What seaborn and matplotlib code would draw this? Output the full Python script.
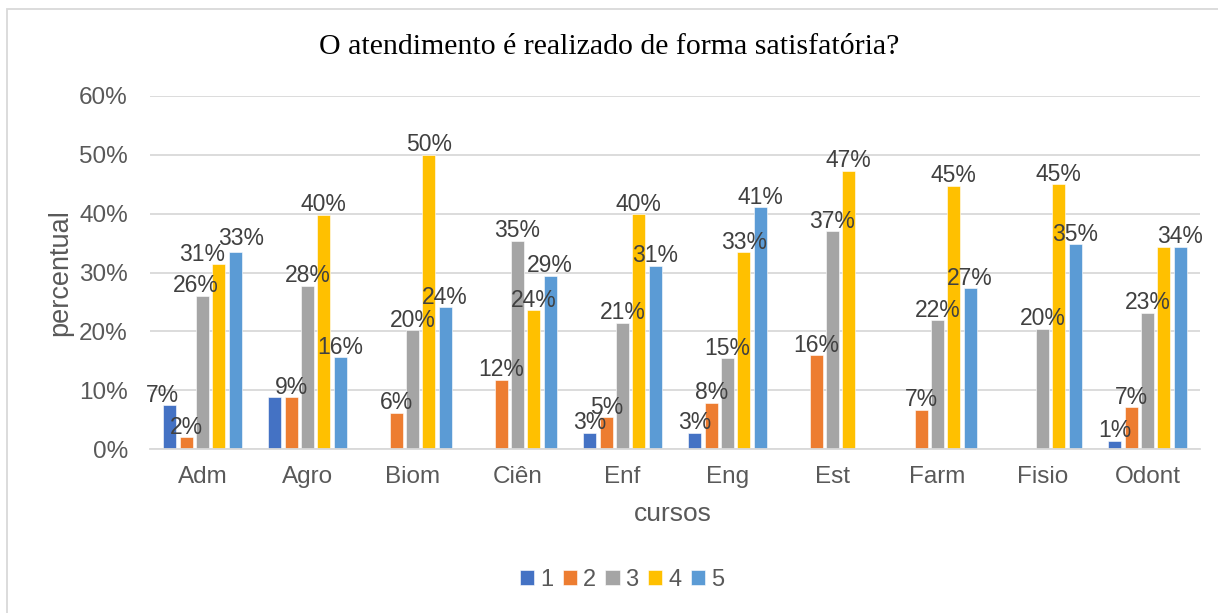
import numpy as np
import pandas as pd
import matplotlib
matplotlib.use('Agg')
import matplotlib.pyplot as plt
import seaborn as sns
from matplotlib.patches import Rectangle

# data (share of answers per course, 1..5)
cursos = ['Adm', 'Agro', 'Biom', 'Ciên', 'Enf', 'Eng', 'Est', 'Farm', 'Fisio', 'Odont']
nota_1 = [7.4, 8.8, 0.0, 0.0, 2.8, 2.8, 0.0, 0.0, 0.0, 1.4]
nota_2 = [2.0, 8.8, 6.2, 11.8, 5.4, 7.9, 15.9, 6.7, 0.0, 7.1]
nota_3 = [26.0, 27.7, 20.2, 35.4, 21.4, 15.4, 37.0, 21.9, 20.4, 23.1]
nota_4 = [31.4, 39.8, 50.0, 23.6, 39.9, 33.4, 47.3, 44.7, 45.0, 34.4]
nota_5 = [33.4, 15.6, 24.1, 29.4, 31.1, 41.1, 0.0, 27.3, 34.8, 34.4]
notas = ['1', '2', '3', '4', '5']
cores = ['#4472C4', '#ED7D31', '#A5A5A5', '#FFC000', '#5B9BD5']

# labels that the original chart does not show (hidden behind a neighbour)
ocultos = [('1', 'Agro'), ('4', 'Odont')]
# labels nudged sideways / up in the original (pixels)
desvio = {('1', 'Adm'): (-8, 0), ('3', 'Adm'): (-7, 0),
          ('4', 'Adm'): (-17, 0), ('5', 'Adm'): (6, 4)}

series = [nota_1, nota_2, nota_3, nota_4, nota_5]
rows = []
for n, vals in zip(notas, series):
    for c, v in zip(cursos, vals):
        rows.append({'curso': c, 'nota': n, 'pct': v / 100})
df = pd.DataFrame(rows)

sns.set_style('white')
plt.rcParams['font.family'] = ['Liberation Sans', 'DejaVu Sans']

fig = plt.figure(figsize=(12.18, 6.13), dpi=100)
ax = fig.add_axes([150 / 1218, 1 - 449 / 613, 1050 / 1218, 353 / 613])

sns.barplot(data=df, x='curso', y='pct', hue='nota', palette=cores,
            width=0.775, gap=0.2, ax=ax, errorbar=None, saturation=1,
            edgecolor='white', linewidth=0.4)

# data labels, zero values hidden
for cont, n, vals in zip(ax.containers, notas, series):
    labs = []
    for c, v in zip(cursos, vals):
        if v == 0 or (n, c) in ocultos:
            labs.append('')
        else:
            labs.append(f'{round(v):.0f}%')
    txts = ax.bar_label(cont, labels=labs, padding=-1, fontsize=16.5, color='#404040')
    for c, t in zip(cursos, txts):
        if (n, c) in desvio:
            dx, dy = desvio[(n, c)]
            t.xyann = (dx * 0.72, -1 + dy * 0.72)

ax.set_ylim(0, 0.6)
ax.set_yticks(np.arange(0, 0.61, 0.1))
ax.set_yticklabels([f'{int(round(t * 100))}%' for t in np.arange(0, 0.61, 0.1)])
ax.yaxis.grid(True, color='#D9D9D9', linewidth=1.3)
ax.set_axisbelow(True)
for s in ['top', 'right', 'left']:
    ax.spines[s].set_visible(False)
ax.spines['bottom'].set_color('#D9D9D9')
ax.spines['bottom'].set_linewidth(1.3)
ax.tick_params(axis='x', length=0, pad=12, labelsize=17.5, labelcolor='#595959')
ax.tick_params(axis='y', length=0, pad=16, labelsize=17.5, labelcolor='#595959')
ax.set_xlim(-0.5, 9.5)

ax.set_xlabel('cursos', fontsize=19, color='#595959')
ax.set_ylabel('percentual', fontsize=19.5, color='#595959')
ax.xaxis.set_label_coords((673 - 150) / 1050, -(514 - 449) / 353)
ax.yaxis.set_label_coords((60 - 150) / 1050, 0.5)
ax.xaxis.label.set_va('center')
ax.yaxis.label.set_va('center')

fig.text(0.5, 1 - 47 / 613, 'O atendimento é realizado de forma satisfatória?',
         ha='center', va='center', fontsize=21.5, family='Liberation Serif', color='black')

handles, labels = ax.get_legend_handles_labels()
ax.legend_.remove()
fig.legend(handles, labels, loc='center', bbox_to_anchor=(622 / 1218, 1 - 580 / 613), ncol=5,
           frameon=False, fontsize=17, handlelength=0.6, handleheight=0.6,
           handletextpad=0.25, columnspacing=0.4, labelcolor='#595959')

# chart area border
fig.patches.append(Rectangle((7 / 1218, -0.1), 1.2, 1 - 9 / 613 + 0.1, transform=fig.transFigure,
                             fill=False, edgecolor='#D9D9D9', linewidth=1.3))

fig.savefig('out.png', dpi=100)
